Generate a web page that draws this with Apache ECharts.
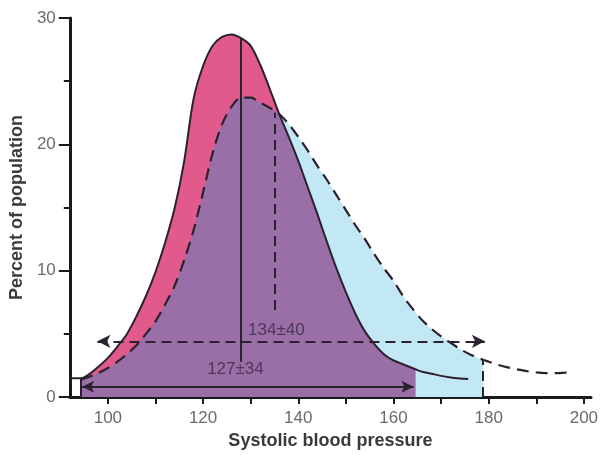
<!DOCTYPE html>
<html lang="en">
<head>
    <meta charset="UTF-8"/>
    <title>Systolic blood pressure</title>
    <script src="https://cdn.jsdelivr.net/npm/echarts@6/dist/echarts.min.js"></script>
    <style>
        html, body { margin: 0; padding: 0; background: #fff; }
    </style>
</head>
<body>
<div id="main" style="width: 601px;height:455px;"></div>

<script type="text/javascript">
    // solid curve (127±34)
    var solidX = [92, 94.4, 96, 98, 100, 102, 104, 106, 108, 110, 112, 114, 116, 118, 120, 122, 124, 126, 128, 130,
        132, 134, 136, 138, 140, 142, 144, 146, 148, 150, 152, 154, 156, 158, 160, 162, 164.6, 166, 168, 170, 172, 174, 175.7];
    var solidY = [1.5, 1.5, 1.8, 2.4, 3.1, 4.0, 5.0, 6.4, 8.0, 9.9, 12.2, 14.9, 18.6, 23.6, 26.2, 27.8, 28.5, 28.7, 28.4, 27.8,
        26.3, 24.4, 22.4, 20.6, 18.7, 16.6, 14.5, 12.3, 10.2, 8.3, 6.6, 5.2, 4.2, 3.4, 2.9, 2.6, 2.2, 2.0, 1.85, 1.68, 1.56, 1.48, 1.43];

    // dashed curve (134±40)
    var dashedX = [94.4, 96, 98, 100, 102, 104, 106, 108, 110, 112, 114, 116, 118, 120, 122, 124, 126, 128, 130,
        132, 134, 136, 138, 140, 142, 144, 146, 148, 150, 152, 154, 156, 158, 160, 162, 164, 166, 168, 170, 172, 174, 176,
        178.8, 180, 182, 184, 186, 188, 190, 192, 194, 196, 197];
    var dashedY = [1.4, 1.6, 1.9, 2.3, 2.8, 3.4, 4.1, 5.0, 6.0, 7.3, 8.8, 10.8, 13.2, 16.2, 19.3, 21.6, 23.0, 23.7, 23.7,
        23.3, 22.9, 22.4, 21.6, 20.6, 19.5, 18.3, 17.2, 16.0, 14.8, 13.6, 12.5, 11.3, 10.2, 9.2, 8.0, 7.0, 6.1, 5.4, 4.8, 4.3, 3.8, 3.4,
        2.95, 2.8, 2.55, 2.35, 2.2, 2.05, 1.95, 1.9, 1.9, 1.93, 1.95];

    var fillStart = 94.4;     // left edge of the fills
    var solidFillEnd = 164.6; // right edge of the pink/purple fill
    var dashedFillEnd = 178.8;
    var crossX = 136;         // where the two curves cross

    var xLabels = [100, 120, 140, 160, 180, 200];
    var xTicks = [100, 110, 120, 130, 140, 150, 160, 170, 180, 190, 200];

    var solidMean = [128, 2.8, 28.4];   // x, bottom, top of the solid mean line
    var dashedMean = [135, 6.9, 22.5];
    var dashedRange = [97.8, 179.2, 4.41];
    var solidRange = [94.6, 164.2, 0.82];
    var notes = [
        {name: '134±40', value: [135.4, 5.3]},
        {name: '127±34', value: [126.8, 2.2]}
    ];

    var ink = '#2b2230';
    var font = 'Liberation Sans, Arial, sans-serif';

    function pairs(xs, ys, from, to) {
        var out = [];
        for (var i = 0; i < xs.length; i++) {
            if (xs[i] >= from && xs[i] <= to) out.push([xs[i], ys[i]]);
        }
        return out;
    }

    function fill(data, color) {
        return {
            type: 'line', data: data, smooth: 0.3, symbol: 'none', silent: true,
            lineStyle: {width: 0}, areaStyle: {color: color, opacity: 1}
        };
    }

    var myChart = echarts.init(document.getElementById('main'));

    var option = {
        animation: false,
        grid: {left: 67, right: 10, top: 18, bottom: 57.5},
        xAxis: {
            type: 'value', min: 92, max: 201.5,
            axisLine: {show: true, lineStyle: {color: '#1a1a1a', width: 3}},
            axisTick: {show: true, customValues: xTicks, length: 7, lineStyle: {color: '#1a1a1a', width: 2}},
            axisLabel: {customValues: xLabels, margin: 13, color: '#6b6b6b', fontSize: 17, fontFamily: font},
            splitLine: {show: false},
            name: 'Systolic blood pressure', nameLocation: 'middle', nameGap: 33,
            nameTextStyle: {fontWeight: 'bold', fontSize: 18, color: '#3a3a3a', fontFamily: font}
        },
        yAxis: {
            type: 'value', min: 0, max: 30, interval: 10,
            axisLine: {show: true, lineStyle: {color: '#1a1a1a', width: 3}},
            axisTick: {show: true, length: 11, lineStyle: {color: '#1a1a1a', width: 2}},
            minorTick: {show: true, splitNumber: 2, length: 6, lineStyle: {color: '#1a1a1a', width: 2}},
            axisLabel: {margin: 14, color: '#6b6b6b', fontSize: 17, fontFamily: font},
            splitLine: {show: false},
            name: 'Percent of population', nameLocation: 'middle', nameGap: 38,
            nameTextStyle: {fontWeight: 'bold', fontSize: 18, color: '#3a3a3a', fontFamily: font}
        },
        series: [
            fill(pairs(dashedX, dashedY, fillStart, dashedFillEnd), '#c3e8f5'),
            fill(pairs(solidX, solidY, fillStart, solidFillEnd), '#e15a8b'),
            fill(pairs(dashedX, dashedY, fillStart, crossX), '#9a6ea6'),
            fill(pairs(solidX, solidY, crossX, solidFillEnd), '#9a6ea6'),
            {
                type: 'line', data: pairs(solidX, solidY, 0, 999), smooth: 0.3, symbol: 'none', silent: true,
                lineStyle: {color: ink, width: 2},
                markLine: {
                    silent: true, symbol: 'none', label: {show: false},
                    lineStyle: {color: ink, width: 2, type: 'solid'},
                    data: [
                        [{coord: [solidMean[0], solidMean[1]]}, {coord: [solidMean[0], solidMean[2]]}],
                        [{coord: [fillStart, 0]}, {coord: [fillStart, solidY[1]]}],
                        [{coord: [solidRange[0], solidRange[2]], symbol: 'arrow', symbolSize: [9, 12]},
                         {coord: [solidRange[1], solidRange[2]], symbol: 'arrow', symbolSize: [9, 12]}]
                    ]
                }
            },
            {
                type: 'line', data: pairs(dashedX, dashedY, 0, 999), smooth: 0.3, symbol: 'none', silent: true,
                lineStyle: {color: ink, width: 2.2, type: [12, 7]},
                markLine: {
                    silent: true, symbol: 'none', label: {show: false},
                    lineStyle: {color: ink, width: 2, type: [10, 6]},
                    data: [
                        [{coord: [dashedMean[0], dashedMean[1]]}, {coord: [dashedMean[0], dashedMean[2]]}],
                        [{coord: [dashedFillEnd, 0]}, {coord: [dashedFillEnd, 2.95]}],
                        [{coord: [dashedRange[0], dashedRange[2]], symbol: 'arrow', symbolSize: [10, 13]},
                         {coord: [dashedRange[1], dashedRange[2]], symbol: 'arrow', symbolSize: [10, 13]}]
                    ]
                }
            },
            {
                type: 'scatter', data: notes, symbolSize: 1, silent: true,
                itemStyle: {color: 'rgba(0,0,0,0)'},
                label: {
                    show: true, position: 'inside', formatter: '{b}',
                    color: '#3b2a48', fontSize: 17, fontFamily: font
                },
                z: 10
            }
        ]
    };

    myChart.setOption(option);
</script>

</body>
</html>
